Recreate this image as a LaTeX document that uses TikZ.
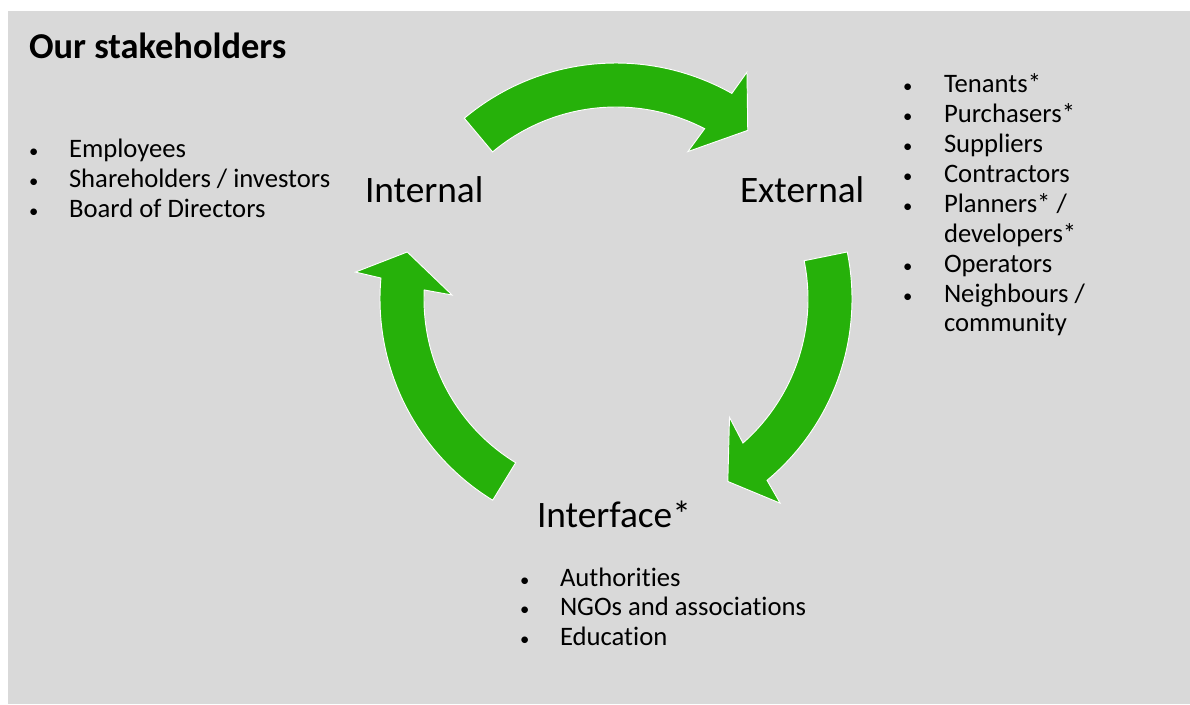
\documentclass[tikz,border=0pt]{standalone}
\usepackage{fontspec}
\setmainfont{Carlito}[Ligatures=NoCommon]
\definecolor{bggray}{RGB}{217,217,217}
\definecolor{arrowgreen}{RGB}{38,177,10}
\newcommand\greenarc[6]{%
  \filldraw[arrowstyle]
    plot[domain=#1:#2, samples=60] ({616+236*cos(\x)},{299+236*sin(\x)})
    -- ({616+262*cos(#4)},{299+262*sin(#4)})
    -- ({616+214*cos(#6)},{299+214*sin(#6)})
    -- ({616+164*cos(#5)},{299+164*sin(#5)})
    -- plot[domain=#3:#1, samples=60] ({616+192*cos(\x)},{299+192*sin(\x)})
    -- cycle;}
\begin{document}
\begin{tikzpicture}[x=0.75pt, y=-0.75pt,
  arrowstyle/.style={fill=arrowgreen, draw=white, line width=0.7pt, line join=miter},
  listtxt/.style={anchor=base west, inner sep=0pt, outer sep=0pt, font=\fontsize{20pt}{22.5pt}\selectfont, text=black},
  bul/.style={anchor=base west, inner sep=0pt, outer sep=0pt, font=\fontsize{14pt}{16pt}\selectfont, text=black},
  lbl/.style={anchor=base west, inner sep=0pt, outer sep=0pt, font=\fontsize{28pt}{32pt}\selectfont, text=black},
  ttl/.style={anchor=base west, inner sep=0pt, outer sep=0pt, font=\fontsize{27.3pt}{30pt}\selectfont\bfseries, text=black}]
\useasboundingbox (0,0) rectangle (1190,704);
\fill[white] (0,0) rectangle (1190,704);
\fill[bggray] (8,11) rectangle (1190,704);

% arrows
\greenarc{-130}{-60.6}{-62.5}{-60}{-64}{-52}
\greenarc{-11.5}{50.2}{48.6}{51.2}{46.2}{58.5}
\greenarc{121.5}{185.1}{182.7}{185.9}{181.4}{192.7}

% title
\node[ttl] (title) at (29,58) {Our stakeholders};

% labels
\node[lbl] (internal) at (365,202) {Internal};
\node[lbl] (external) at (740,202) {External};
\node[lbl] (interface) at (537,527) {Interface*};

% left list
\node[bul] (lb1) at (29,157) {•};
\node[bul] (lb2) at (29,187) {•};
\node[bul] (lb3) at (29,217) {•};
\node[listtxt] (l1) at (69,157) {Employees};
\node[listtxt] (l2) at (69,187) {Shareholders / investors};
\node[listtxt] (l3) at (69,217) {Board of Directors};

% right list
\node[bul] (rb1) at (903,92) {•};
\node[bul] (rb2) at (903,122) {•};
\node[bul] (rb3) at (903,152) {•};
\node[bul] (rb4) at (903,182) {•};
\node[bul] (rb5) at (903,212) {•};
\node[bul] (rb6) at (903,272) {•};
\node[bul] (rb7) at (903,302) {•};
\node[listtxt] (r1) at (944,92) {Tenants*};
\node[listtxt] (r2) at (944,122) {Purchasers*};
\node[listtxt] (r3) at (944,152) {Suppliers};
\node[listtxt] (r4) at (944,182) {Contractors};
\node[listtxt] (r5) at (944,212) {Planners* /};
\node[listtxt] (r5b) at (944,242) {developers*};
\node[listtxt] (r6) at (944,272) {Operators};
\node[listtxt] (r7) at (944,302) {Neighbours /};
\node[listtxt] (r7b) at (944,331) {community};

% bottom list
\node[bul] (bb1) at (520,586) {•};
\node[bul] (bb2) at (520,615) {•};
\node[bul] (bb3) at (520,645) {•};
\node[listtxt] (b1) at (560,586) {Authorities};
\node[listtxt] (b2) at (560,615) {NGOs and associations};
\node[listtxt] (b3) at (560,645) {Education};
\end{tikzpicture}
\end{document}
